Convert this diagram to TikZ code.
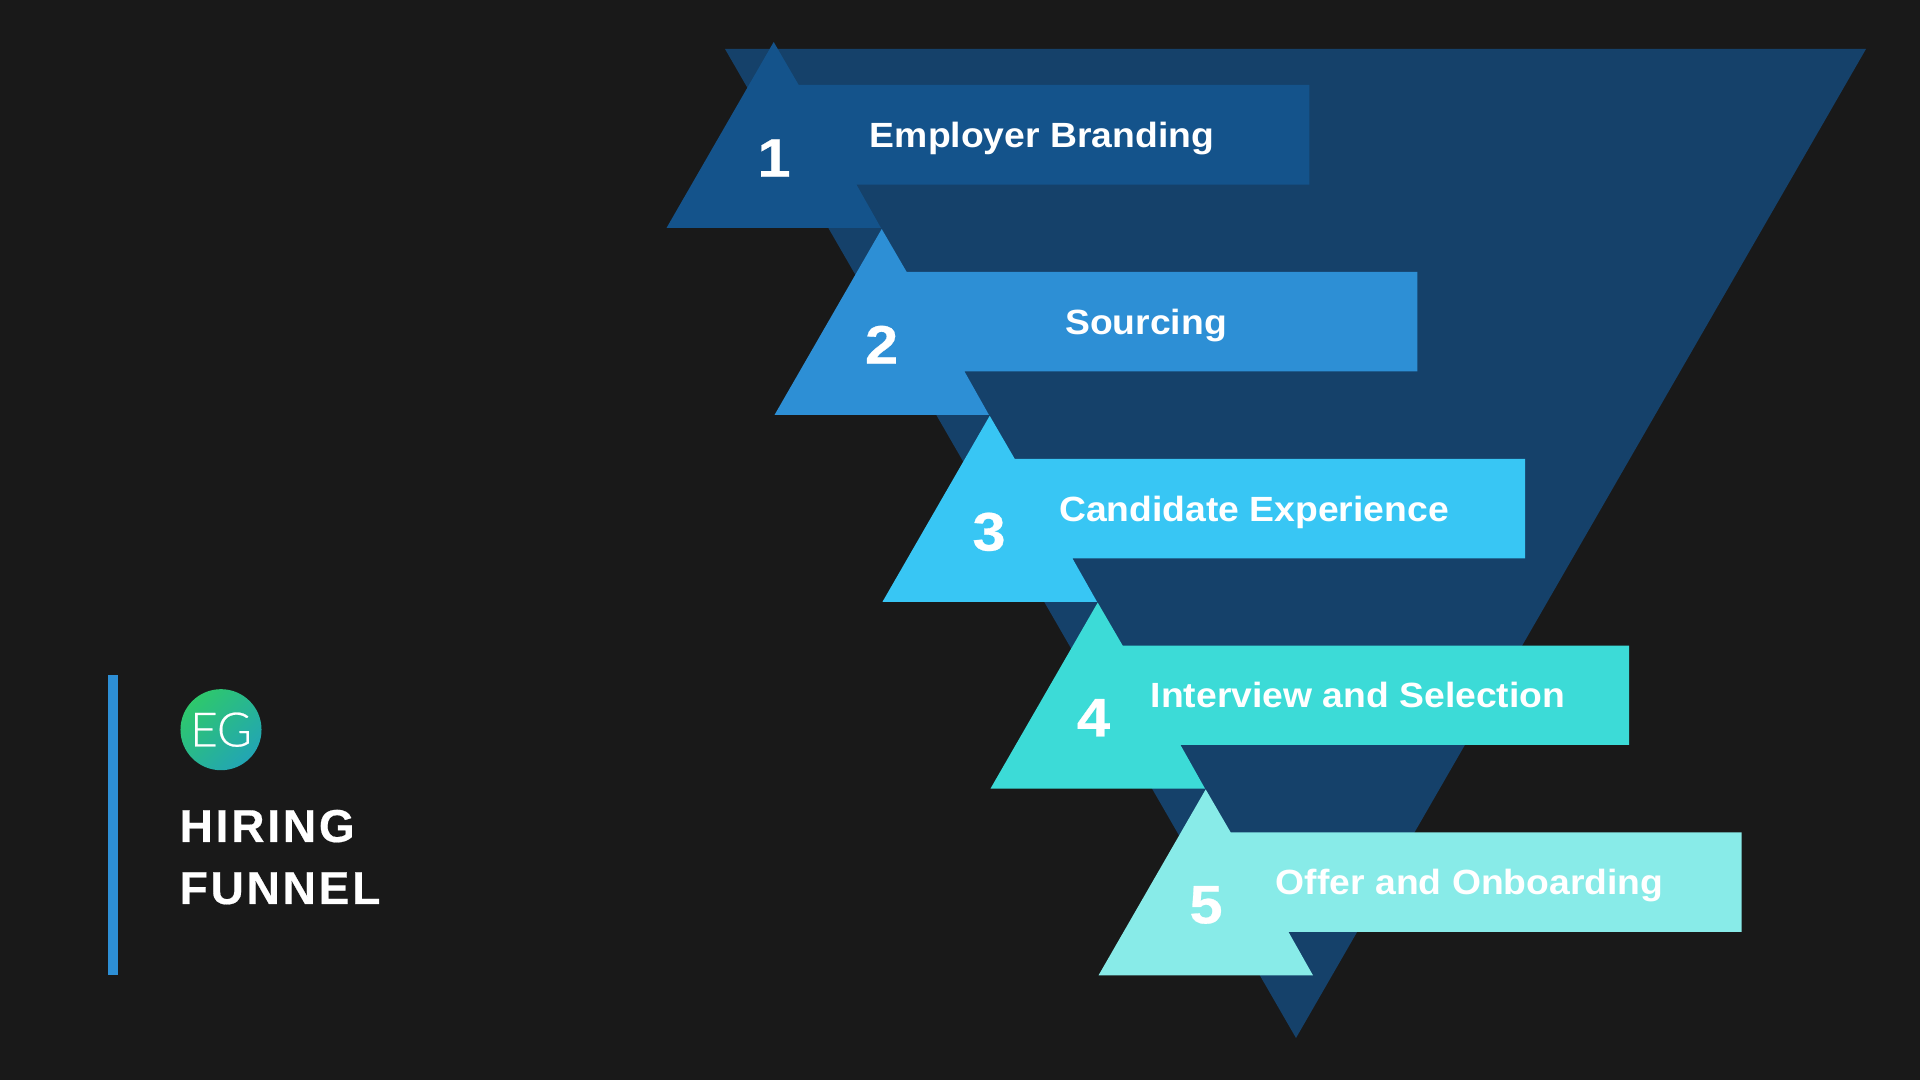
\documentclass[tikz,border=0pt]{standalone}
\usepackage{fontspec}
\usepackage{tikz}
\setmainfont{Liberation Sans}
\newfontfamily\logofont[FakeBold=0.5]{Lato Light}
\newfontfamily\titlefont[LetterSpace=6,BoldFeatures={FakeBold=0.4}]{Liberation Sans}
\newfontfamily\labelfont[BoldFeatures={FakeStretch=1.065}]{Liberation Sans}
\newfontfamily\numfont[BoldFeatures={FakeStretch=1.1,FakeBold=0.5}]{Liberation Sans}
\definecolor{pagebg}{HTML}{191919}
\definecolor{funnelblue}{HTML}{15416A}
\definecolor{stageone}{HTML}{14538B}
\definecolor{stagetwo}{HTML}{2D8FD5}
\definecolor{stagethree}{HTML}{38C6F4}
\definecolor{stagefour}{HTML}{3CDBD7}
\definecolor{stagefive}{HTML}{88EBE8}
\definecolor{logogreen}{HTML}{2EC86C}
\definecolor{logoteal}{HTML}{22A5B4}

\begin{document}
\begin{tikzpicture}[x=0.01cm,y=-0.01cm]
	\tikzstyle{stagelabel}=[anchor=base,inner sep=0pt,text=white,font=\fontsize{9.96pt}{12pt}\labelfont\bfseries]
	\tikzstyle{stagenum}=[anchor=base,inner sep=0pt,text=white,font=\fontsize{15.4pt}{18pt}\numfont\bfseries]
	\tikzstyle{titleline}=[anchor=base west,inner sep=0pt,text=white,font=\fontsize{13.1pt}{16pt}\titlefont\bfseries]

	\fill[pagebg] (0,0) rectangle (1920,1080);
	\useasboundingbox (0,0) rectangle (1920,1080);

	\fill[funnelblue] (725,49) -- (1866,49) -- (1296,1038) -- cycle;

	\fill[stageone] (773.7,42) -- (798.7,85) -- (1309.4,85) -- (1309.4,184.7) -- (856.5,184.7) -- (881,228) -- (666.5,228) -- cycle;
	\fill[stagetwo] (881.7,229) -- (906.7,272) -- (1417.4,272) -- (1417.4,371.5) -- (964.5,371.5) -- (989,415) -- (774.5,415) -- cycle;
	\fill[stagethree] (989.7,415.8) -- (1014.7,458.8) -- (1525,458.8) -- (1525,558.5) -- (1072.5,558.5) -- (1097,601.8) -- (882.5,601.8) -- cycle;
	\fill[stagefour] (1097.7,602.6) -- (1122.7,645.6) -- (1629,645.6) -- (1629,745) -- (1180.5,745) -- (1205,788.6) -- (990.5,788.6) -- cycle;
	\fill[stagefive] (1205.7,789.4) -- (1230.7,832.4) -- (1741.6,832.4) -- (1741.6,932) -- (1288.5,932) -- (1313,975.4) -- (1098.5,975.4) -- cycle;

	\node[stagenum] (N1) at (774,176.7) {1};
	\node[stagenum] (N2) at (881.6,363.6) {2};
	\node[stagenum] (N3) at (989,550.5) {3};
	\node[stagenum] (N4) at (1093.5,736.4) {4};
	\node[stagenum] (N5) at (1206,923.3) {5};

	\node[stagelabel] (L1) at (1042,147.3) {Employer Branding};
	\node[stagelabel] (L2) at (1146,334.2) {Sourcing};
	\node[stagelabel] (L3) at (1254,521.1) {Candidate Experience};
	\node[stagelabel] (L4) at (1358,708) {Interview and Selection};
	\node[stagelabel] (L5) at (1469.7,894.9) {Offer and Onboarding};

	\fill[stagetwo] (108,675) rectangle (118,975);
	\node[circle,minimum size=0.81cm,inner sep=0pt,left color=logogreen,right color=logoteal,shading angle=45] (logo) at (221,729.7) {};
	\node[inner sep=0pt,text=white,font=\fontsize{13.5pt}{13.5pt}\logofont] (logotext) at (logo.center) {EG};
	\node[titleline] (T1) at (179,842) {HIRING};
	\node[titleline] (T2) at (179,904) {FUNNEL};
\end{tikzpicture}
\end{document}
